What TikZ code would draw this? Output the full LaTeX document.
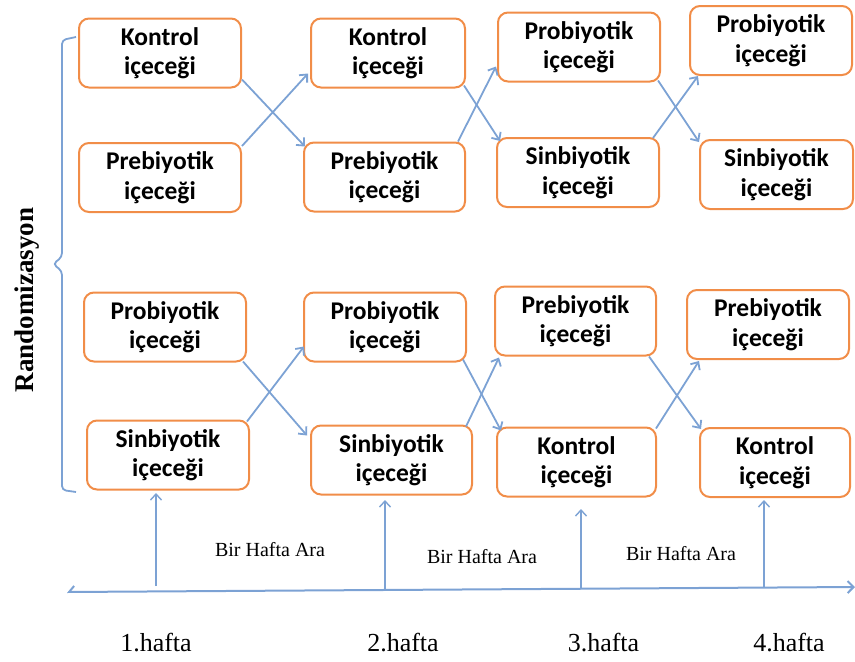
\documentclass[tikz,border=0pt]{standalone}
\usepackage{fontspec}
\setmainfont{Liberation Serif}
\newfontfamily\boxfont{Carlito}
\usetikzlibrary{arrows.meta}
\definecolor{boxorange}{RGB}{241,141,72}
\definecolor{linkblue}{RGB}{124,162,212}

\begin{document}
\begin{tikzpicture}[x=1pt,y=-1pt,
  drink/.style={draw=boxorange, line width=2pt, rounded corners=10pt,
    fill=white, inner sep=0pt, minimum height=69pt, align=center,
    font=\boxfont\bfseries\fontsize{25.5}{29.5}\selectfont},
  link/.style={draw=linkblue, line width=1.8pt,
    -{Straight Barb[length=6pt,width=11pt]}},
  gap label/.style={font=\fontsize{20}{24}\selectfont, inner sep=0pt},
  week label/.style={font=\fontsize{26}{30}\selectfont, inner sep=0pt},
  group brace/.style={draw=linkblue, line width=1.8pt, rounded corners=4pt}]
\useasboundingbox (0,0) rectangle (855,662);

% week 1
\node[drink, minimum width=162pt] (k1)   at (160,53)    {Kontrol\\içeceği};
\node[drink, minimum width=162pt] (p1)   at (160,177.5) {Prebiyotik\\içeceği};
\node[drink, minimum width=162pt] (pro1) at (165,327)   {Probiyotik\\içeceği};
\node[drink, minimum width=162pt] (s1)   at (168,455)   {Sinbiyotik\\içeceği};
% week 2
\node[drink, minimum width=154pt] (k2)   at (388,53)    {Kontrol\\içeceği};
\node[drink, minimum width=161pt] (p2)   at (384.5,177) {Prebiyotik\\içeceği};
\node[drink, minimum width=162pt] (pro2) at (385,327)   {Probiyotik\\içeceği};
\node[drink, minimum width=161pt] (s2)   at (391.5,460) {Sinbiyotik\\içeceği};
% week 3
\node[drink, minimum width=162pt] (pro3) at (579,47)    {Probiyotik\\içeceği};
\node[drink, minimum width=162pt] (s3)   at (578,172.5) {Sinbiyotik\\içeceği};
\node[drink, minimum width=161pt] (p3)   at (575.5,321) {Prebiyotik\\içeceği};
\node[drink, minimum width=159pt] (k3)   at (576.5,462) {Kontrol\\içeceği};
% week 4
\node[drink, minimum width=162pt] (pro4) at (771,40.5)  {Probiyotik\\içeceği};
\node[drink, minimum width=153pt] (s4)   at (776.5,174.5) {Sinbiyotik\\içeceği};
\node[drink, minimum width=162pt] (p4)   at (768,324.5) {Prebiyotik\\içeceği};
\node[drink, minimum width=150pt] (k4)   at (775,462.5) {Kontrol\\içeceği};

% cross-over arrows, upper group
\draw[link] ([shift={(0,-9)}]k1.south east) -- ([shift={(2,5)}]p2.north west);
\draw[link] ([shift={(0,4)}]p1.north east) -- ([shift={(-2,-15)}]k2.south west);
\draw[link] ([shift={(-2,-3)}]k2.south east) -- ([shift={(4,4)}]s3.north west);
\draw[link] ([shift={(-8,0)}]p2.north east) -- ([shift={(-1,-16)}]pro3.south west);
\draw[link] ([shift={(-3,-2)}]pro3.south east) -- ([shift={(0,3)}]s4.north west);
\draw[link] ([shift={(-7,1)}]s3.north east) -- ([shift={(9,0)}]pro4.south west);

% cross-over arrows, lower group
\draw[link] ([shift={(-4,-1)}]pro1.south east) -- ([shift={(-3,11)}]s2.north west);
\draw[link] ([shift={(-3,2)}]s1.north east) -- ([shift={(1,-16)}]pro2.south west);
\draw[link] ([shift={(-4,-3)}]pro2.south east) -- ([shift={(5,4)}]k3.north west);
\draw[link] ([shift={(-7,2)}]s2.north east) -- ([shift={(5,1)}]p3.south west);
\draw[link] ([shift={(-8,0)}]p3.south east) -- ([shift={(2,2)}]k4.north west);
\draw[link] ([shift={(-1,2)}]k3.north east) -- ([shift={(13,1)}]p4.south west);

% randomisation brace
\draw[group brace] (76,37) -- (62,40) -- (62,257) -- (53,264) -- (62,271)
  -- (62,490) -- (76,492);
\node[rotate=90, anchor=base, inner sep=0pt,
  font=\bfseries\fontsize{27}{30}\selectfont] (rand) at (33,300) {Randomizasyon};

% time axis
\coordinate (tl) at (67,592);
\coordinate (tr) at (855,587);
\draw[draw=linkblue, line width=2pt,
  {Straight Barb[harpoon,swap,length=5pt,width=12pt]}-{Straight Barb[length=6pt,width=12pt]}]
  (tl) -- (tr);

\coordinate (w1b) at (156,586);   \coordinate (w1t) at (156,493);
\coordinate (w2b) at (385,591);   \coordinate (w2t) at (385,500);
\coordinate (w3b) at (581,589);   \coordinate (w3t) at (581,509);
\coordinate (w4b) at (764,588);   \coordinate (w4t) at (764,500);
\draw[link, line width=1.4pt] (w1b) -- (w1t);
\draw[link, line width=1.4pt] (w2b) -- (w2t);
\draw[link, line width=1.4pt] (w3b) -- (w3t);
\draw[link, line width=1.4pt] (w4b) -- (w4t);

\node[gap label] (g1) at (270,550) {Bir Hafta Ara};
\node[gap label] (g2) at (482,557) {Bir Hafta Ara};
\node[gap label] (g3) at (681,554) {Bir Hafta Ara};

\node[week label] (h1) at (156,643)   {1.hafta};
\node[week label] (h2) at (403,643)   {2.hafta};
\node[week label] (h3) at (603.5,643) {3.hafta};
\node[week label] (h4) at (789,643)   {4.hafta};
\end{tikzpicture}
\end{document}
